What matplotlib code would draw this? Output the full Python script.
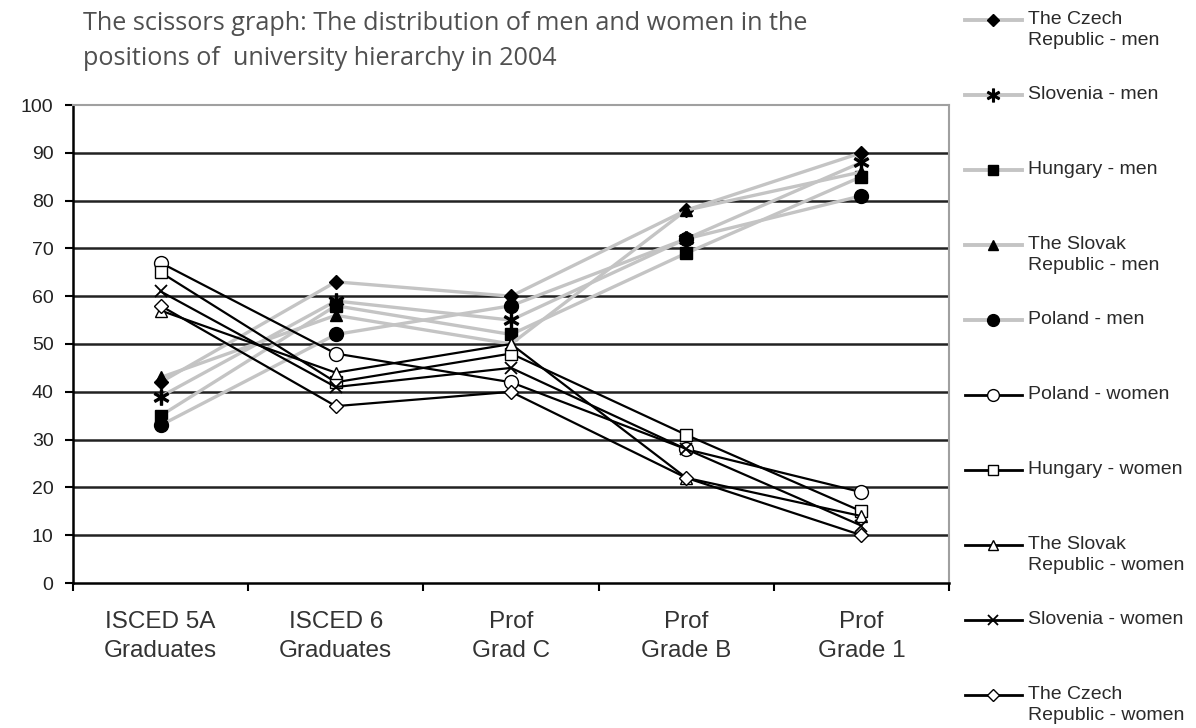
import numpy as np
import matplotlib.pyplot as plt
from matplotlib.lines import Line2D

# ------------------------------ dane ------------------------------

categories = ["ISCED 5A\nGraduates", "ISCED 6\nGraduates", "Prof\nGrad C", "Prof\nGrade B", "Prof\nGrade 1"]

czech_men = [42, 63, 60, 78, 90]
slovenia_men = [39, 59, 55, 72, 88]
hungary_men = [35, 58, 52, 69, 85]
slovak_men = [43, 56, 50, 78, 86]
poland_men = [33, 52, 58, 72, 81]

poland_women = [67, 48, 42, 28, 19]
hungary_women = [65, 42, 48, 31, 15]
slovak_women = [57, 44, 50, 22, 14]
slovenia_women = [61, 41, 45, 28, 12]
czech_women = [58, 37, 40, 22, 10]

labels = [
    "The Czech\nRepublic - men",
    "Slovenia - men",
    "Hungary - men",
    "The Slovak\nRepublic - men",
    "Poland - men",
    "Poland - women",
    "Hungary - women",
    "The Slovak\nRepublic - women",
    "Slovenia - women",
    "The Czech\nRepublic - women",
]

series = [czech_men, slovenia_men, hungary_men, slovak_men, poland_men,
          poland_women, hungary_women, slovak_women, slovenia_women, czech_women]

# ------------------------------ style ------------------------------

markers = ["D", "$\u2217$", "s", "^", "o", "o", "s", "^", "x", "D"]
sizes = [7, 11, 9, 8, 10, 10, 9, 8, 8, 7]
men_color = "#c4c4c4"

plt.rcParams["font.family"] = ["Liberation Sans", "DejaVu Sans"]

fig = plt.figure(figsize=(11.96, 7.28), dpi=100)
ax = fig.add_axes([73 / 1196, 1 - 583 / 728, 876 / 1196, 478 / 728])

x = np.arange(len(categories))

styles = []
for i, vals in enumerate(series):
    is_men = i < 5
    if is_men:
        style = dict(color=men_color, lw=2.4, marker=markers[i], ms=sizes[i],
                     mfc="black", mec="black", mew=1.0, zorder=3)
    else:
        style = dict(color="black", lw=1.6, marker=markers[i], ms=sizes[i],
                     mfc="white", mec="black", mew=1.0, zorder=4)
    if markers[i] == "x":
        style["mew"] = 1.3
    styles.append(style)
    ax.plot(x, vals, **style)

# osie
ax.set_xlim(-0.5, len(categories) - 0.5)
ax.set_ylim(0, 100)
ax.set_yticks(np.arange(0, 101, 10))
ax.set_yticklabels([str(v) for v in range(0, 101, 10)], fontsize=14, color="#222222")
ax.set_xticks(x)
ax.set_xticklabels(categories, fontsize=17.5, color="#333333", linespacing=1.45)
ax.set_xticks(np.arange(-0.5, len(categories), 1.0), minor=True)
ax.tick_params(axis="x", which="major", length=0, pad=20)
ax.tick_params(axis="x", which="minor", length=6, width=1.5, direction="out", color="black")
ax.tick_params(axis="y", length=6, width=1.5, direction="out", pad=8)

for v in range(10, 100, 10):
    ax.axhline(v, color="#222222", lw=1.8, zorder=1)

ax.spines["left"].set_linewidth(1.8)
ax.spines["bottom"].set_linewidth(1.8)
ax.spines["top"].set_color("#a0a0a0")
ax.spines["right"].set_color("#a0a0a0")
ax.spines["top"].set_linewidth(1.5)
ax.spines["right"].set_linewidth(1.5)

# tytul
fig.text(83 / 1196, 1 - 11 / 728,
         "The scissors graph: The distribution of men and women in the\npositions of  university hierarchy in 2004",
         fontsize=18.2, color="#505050", family=["Open Sans", "DejaVu Sans"],
         va="top", ha="left", linespacing=1.55)

# legenda (recznie, jak w oryginale)
for i, lab in enumerate(labels):
    y_px = 20 + i * 75
    yf = 1 - y_px / 728
    st = styles[i]
    line = Line2D([965 / 1196, 1022 / 1196], [yf, yf], transform=fig.transFigure,
                  color=st["color"], lw=st["lw"] + 0.4, zorder=2)
    fig.add_artist(line)
    mk = Line2D([993 / 1196], [yf], transform=fig.transFigure, ls="none",
                marker=st["marker"], ms=st["ms"] * 0.85, mfc=st["mfc"], mec=st["mec"],
                mew=st["mew"], zorder=3)
    fig.add_artist(mk)
    fig.text(1028 / 1196, yf + 9 / 728, lab, fontsize=14, color="#2a2a2a",
             va="top", ha="left", linespacing=1.3)

fig.savefig("out.png", dpi=100)
